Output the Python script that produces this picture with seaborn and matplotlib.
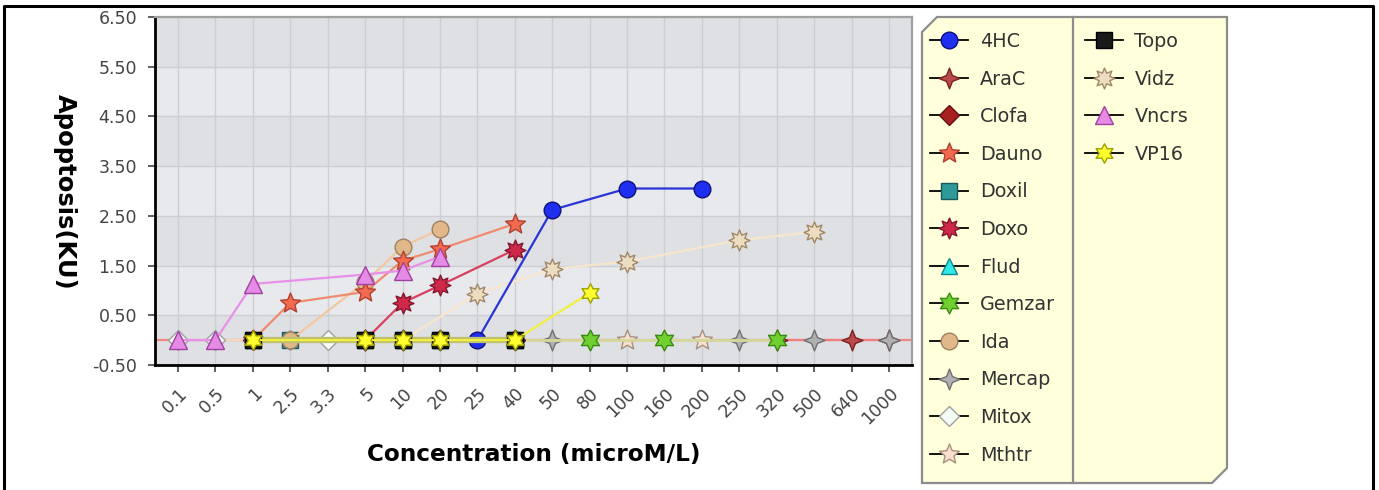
import numpy as np
import pandas as pd
import matplotlib
matplotlib.use("Agg")
import matplotlib.pyplot as plt
from matplotlib.lines import Line2D
from matplotlib.patches import Polygon
from matplotlib.path import Path
import seaborn as sns

N = np.nan
categories = ['0.1', '0.5', '1', '2.5', '3.3', '5', '10', '20', '25', '40',
              '50', '80', '100', '160', '200', '250', '320', '500', '640', '1000']

v_4hc    = [N, N, N, N, N, N, N, N, 0, N, 2.62, N, 3.05, N, 3.05, N, N, N, N, N]
v_arac   = [N, N, N, N, N, N, N, N, N, N, N, N, N, N, N, N, 0, N, 0, 0]
v_clofa  = [N, N, 0, N, N, 0, 0, 0, N, 0, N, N, N, N, N, N, N, N, N, N]
v_dauno  = [N, N, 0, 0.75, N, 0.97, 1.60, 1.83, N, 2.34, N, N, N, N, N, N, N, N, N, N]
v_doxil  = [N, N, 0, 0, N, 0, 0, 0, N, 0, N, N, N, N, N, N, N, N, N, N]
v_doxo   = [N, N, N, N, N, 0, 0.75, 1.10, N, 1.82, N, N, N, N, N, N, N, N, N, N]
v_flud   = [N, N, 0, N, N, 0, 0, 0, N, 0, N, N, N, N, N, N, N, N, N, N]
v_gemzar = [N, N, N, N, N, 0, 0, 0, N, 0, N, 0, N, 0, N, N, 0, N, N, N]
v_ida    = [N, N, 0, 0, N, 1.17, 1.88, 2.23, N, N, N, N, N, N, N, N, N, N, N, N]
v_mercap = [N, N, N, N, N, N, N, N, N, N, 0, N, N, N, N, 0, N, 0, N, 0]
v_mitox  = [0, 0, N, 0, 0, N, N, N, N, N, N, N, N, N, N, N, N, N, N, N]
v_mthtr  = [N, N, N, N, N, N, N, N, N, N, N, N, 0, N, 0, N, N, N, N, N]
v_topo   = [N, N, 0, N, N, 0, 0, 0, N, 0, N, N, N, N, N, N, N, N, N, N]
v_vidz   = [N, N, N, N, N, N, 0, N, 0.93, N, 1.43, N, 1.58, N, N, 2.01, N, 2.18, N, N]
v_vncrs  = [0, 0, 1.13, N, N, 1.32, 1.40, 1.68, N, N, N, N, N, N, N, N, N, N, N, N]
v_vp16   = [N, N, 0, N, N, 0, 0, 0, N, 0, N, 0.95, N, N, N, N, N, N, N, N]

series_names = ['4HC', 'AraC', 'Clofa', 'Dauno', 'Doxil', 'Doxo', 'Flud', 'Gemzar',
                'Ida', 'Mercap', 'Mitox', 'Mthtr', 'Topo', 'Vidz', 'Vncrs', 'VP16']
series_vals = [v_4hc, v_arac, v_clofa, v_dauno, v_doxil, v_doxo, v_flud, v_gemzar,
               v_ida, v_mercap, v_mitox, v_mthtr, v_topo, v_vidz, v_vncrs, v_vp16]


def star_path(n, inner):
    ang = np.pi / 2 + np.arange(2 * n) * np.pi / n
    r = np.where(np.arange(2 * n) % 2 == 0, 1.0, inner)
    verts = np.column_stack([r * np.cos(ang), r * np.sin(ang)])
    verts = np.vstack([verts, verts[:1]])
    codes = [Path.MOVETO] + [Path.LINETO] * (2 * n - 1) + [Path.CLOSEPOLY]
    return Path(verts, codes)


star4 = star_path(4, 0.40)
star5 = star_path(5, 0.45)
star6 = star_path(6, 0.55)
star8 = star_path(8, 0.55)

# style: marker, size, face, edge, line colour, line width
styles = {
    '4HC':    ('o', 12, '#1f2ff0', '#10107a', '#2a35d8', 1.6),
    'AraC':   (star4, 15, '#b84a4a', '#7a2020', '#f08080', 1.6),
    'Clofa':  ('D', 10, '#a82020', '#601010', '#b03030', 1.4),
    'Dauno':  (star5, 15, '#f26a4f', '#b04030', '#f08a70', 1.6),
    'Doxil':  ('s', 11, '#2e9a9a', '#1a5a5a', '#40a0a0', 1.4),
    'Doxo':   (star8, 15, '#d02848', '#801830', '#d84060', 1.6),
    'Flud':   ('^', 12, '#30e8e8', '#108888', '#60e0e0', 1.4),
    'Gemzar': (star6, 15, '#70d030', '#3a8a10', '#d4d898', 2.0),
    'Ida':    ('o', 12, '#e0b88a', '#a08060', '#f2c8a0', 1.6),
    'Mercap': (star4, 15, '#b0b0b0', '#707070', 'none', 0.0),
    'Mitox':  ('D', 10, '#f4fbf4', '#a0a0a0', '#f5d5bb', 1.6),
    'Mthtr':  (star5, 15, '#f8e0cc', '#a89080', '#f0e4d4', 1.6),
    'Topo':   ('s', 12, '#1a1a1a', '#000000', '#bfbf70', 4.5),
    'Vidz':   (star8, 15, '#ecdcc0', '#a08868', '#f8e6cc', 1.6),
    'Vncrs':  ('^', 13, '#e58ae5', '#a040a0', '#e890e8', 1.6),
    'VP16':   (star6, 14, '#ffff30', '#a0a000', '#f2f040', 1.6),
}
draw_order = ['Vidz', 'Mthtr', 'AraC', 'Mercap', 'Gemzar', 'Mitox', 'Doxil', 'Clofa',
              'Flud', 'Ida', 'Dauno', 'Doxo', 'Vncrs', '4HC', 'Topo', 'VP16']

W, H = 1379, 490
fig = plt.figure(figsize=(W / 100, H / 100), dpi=100)
plt.rcParams['font.family'] = ['DejaVu Sans']

# background overlay axes in pixel coords
bg = fig.add_axes([0, 0, 1, 1], zorder=0)
bg.set_xlim(0, W)
bg.set_ylim(H, 0)
bg.axis('off')
bg.plot([4, 4, 1373, 1373], [H + 5, 6, 6, H + 5], color='black', lw=2.2)
c = 15
box = Polygon([(922, 17 + c), (922 + c, 17), (1227, 17), (1227, 483 - c),
               (1227 - c, 483), (922, 483)], closed=True,
              facecolor='#ffffdc', edgecolor='#8c8c8c', lw=1.6)
bg.add_patch(box)
bg.plot([1073, 1073], [17, 483], color='#8c8c8c', lw=1.6)

ax = fig.add_axes([155 / W, (H - 365) / H, 757 / W, 348 / H], zorder=1)
ax.set_facecolor('#e7e9ed')
ymin, ymax = -0.5, 6.5
for lo in np.arange(-0.5, 6.5, 2.0):
    ax.axhspan(lo, lo + 1, color='#dfe0e3', zorder=0, lw=0)
ax.axhline(0, color='#f08888', lw=1.6, zorder=1)

x = np.arange(len(categories))
frames = {}
for name, vals in zip(series_names, series_vals):
    frames[name] = pd.DataFrame({'x': x, 'y': vals}).dropna()

for z, name in enumerate(draw_order):
    mk, ms, fc, ec, lc, lw = styles[name]
    sns.lineplot(data=frames[name], x='x', y='y', ax=ax, estimator=None, sort=True,
                 color=lc, lw=lw, marker=mk, markersize=ms, markerfacecolor=fc,
                 markeredgecolor=ec, markeredgewidth=1.0, legend=False, zorder=2 + z)

ax.set_xlim(-0.615, len(categories) - 1 + 0.615)
ax.set_ylim(ymin, ymax)
ax.set_xticks(x)
ax.set_xticklabels(categories, rotation=45, ha='right', rotation_mode='anchor',
                   fontsize=12.5, color='#444444')
yt = np.arange(-0.5, 6.51, 1.0)
ax.set_yticks(yt)
ax.set_yticklabels([f'{v:.2f}' for v in yt], fontsize=12.5, color='#444444')
ax.tick_params(axis='both', direction='out', length=5, width=1.2, color='#444444')
ax.tick_params(axis='y', pad=8)
ax.tick_params(axis='x', pad=9)
ax.grid(True, color='#cdced1', lw=1.0, zorder=0.5)
ax.set_axisbelow(True)
for s in ['top', 'right']:
    ax.spines[s].set_color('#a0a0a0')
    ax.spines[s].set_linewidth(1.6)
for s in ['left', 'bottom']:
    ax.spines[s].set_color('black')
    ax.spines[s].set_linewidth(2.0)

ax.set_xlabel('Concentration (microM/L)', fontsize=16.7, fontweight='bold')
ax.xaxis.set_label_coords(0.5, -0.225)
ax.set_ylabel('Apoptosis(KU)', fontsize=17.5, fontweight='bold', rotation=-90,
              va='center')
ax.yaxis.set_label_coords(-0.119, 0.497)

handles = []
for name in series_names:
    mk, ms, fc, ec, lc, lw = styles[name]
    handles.append(Line2D([], [], color='black', lw=1.3, marker=mk, markersize=ms,
                          markerfacecolor=fc, markeredgecolor=ec, markeredgewidth=1.0))
labels = list(series_names)
blank = Line2D([], [], linestyle='none', marker='none')
handles = handles + [blank] * 8
labels = labels + [''] * 8
leg = fig.legend(handles, labels, ncol=2, loc='upper left',
                 bbox_to_anchor=(930 / W, 1 - 32 / H), frameon=False,
                 fontsize=13.8, handlelength=2.0, handletextpad=0.6,
                 labelspacing=0.97, columnspacing=1.55, borderpad=0, borderaxespad=0)
for t in leg.get_texts():
    t.set_color('#333333')

fig.savefig('out.png', dpi=100, facecolor='white')
